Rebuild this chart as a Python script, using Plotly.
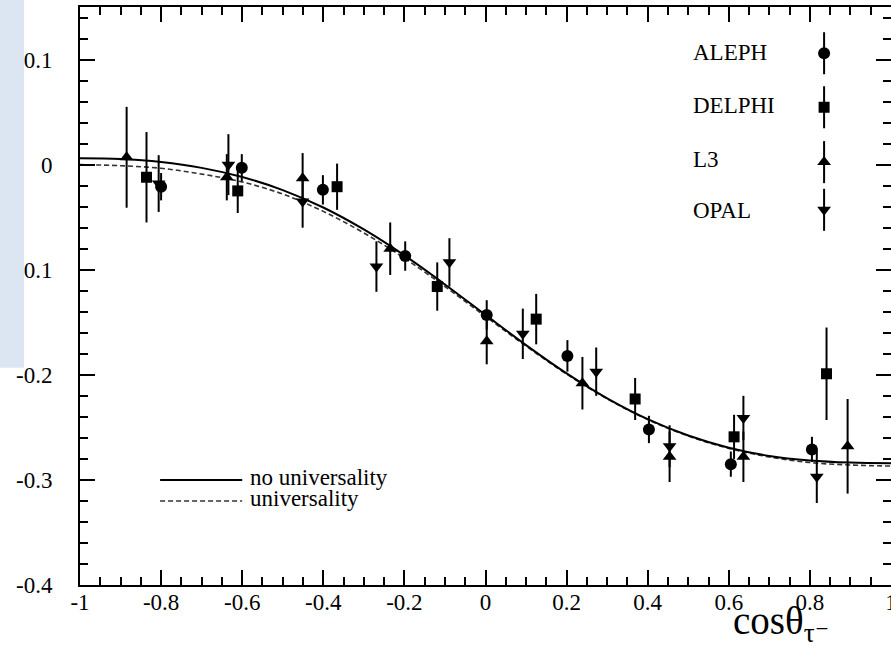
import plotly.graph_objects as go

# ---------------- data ----------------
curve_x = [-1.0, -0.9, -0.8, -0.7, -0.6, -0.5, -0.4, -0.3, -0.2, -0.1, 0.0,
           0.1, 0.2, 0.3, 0.4, 0.5, 0.6, 0.7, 0.8, 0.9, 1.0]
no_universality = [0.0061, 0.0053, 0.0024, -0.0031, -0.0118, -0.0242, -0.0408,
                   -0.0617, -0.0864, -0.1140, -0.1430, -0.1718, -0.1987, -0.2224,
                   -0.2422, -0.2578, -0.2694, -0.2772, -0.2815, -0.2835, -0.2842]
universality = [0.0, -0.0010, -0.0035, -0.0090, -0.0165, -0.0280, -0.0445,
                -0.0650, -0.0890, -0.1160, -0.1445, -0.1727, -0.1993, -0.2228,
                -0.2426, -0.2582, -0.2700, -0.2782, -0.2835, -0.2858, -0.2868]

aleph_x = [-0.800, -0.601, -0.401, -0.198, 0.003, 0.202, 0.403, 0.605, 0.805]
aleph_y = [-0.021, -0.003, -0.024, -0.087, -0.143, -0.182, -0.252, -0.285, -0.271]
aleph_err = [0.013, 0.013, 0.014, 0.014, 0.014, 0.015, 0.013, 0.012, 0.012]

delphi_x = [-0.836, -0.611, -0.366, -0.119, 0.125, 0.369, 0.613, 0.841]
delphi_y = [-0.012, -0.025, -0.021, -0.116, -0.147, -0.223, -0.259, -0.199]
delphi_err = [0.043, 0.021, 0.022, 0.023, 0.024, 0.020, 0.021, 0.044]

l3_x = [-0.885, -0.638, -0.451, -0.235, 0.003, 0.239, 0.454, 0.636, 0.893]
l3_y = [0.007, -0.012, -0.013, -0.080, -0.168, -0.208, -0.278, -0.278, -0.268]
l3_err = [0.048, 0.022, 0.024, 0.025, 0.022, 0.025, 0.024, 0.024, 0.045]

opal_x = [-0.806, -0.634, -0.451, -0.269, -0.089, 0.092, 0.273, 0.454, 0.636, 0.817]
opal_y = [-0.018, 0.000, -0.035, -0.097, -0.093, -0.161, -0.197, -0.268, -0.241, -0.297]
opal_err = [0.027, 0.029, 0.025, 0.024, 0.023, 0.024, 0.023, 0.020, 0.021, 0.025]

experiments = ["ALEPH", "DELPHI", "L3", "OPAL"]
curve_names = ["no universality", "universality"]

x_tickvals = [-1, -0.8, -0.6, -0.4, -0.2, 0, 0.2, 0.4, 0.6, 0.8, 1]
x_ticktext = ["-1", "-0.8", "-0.6", "-0.4", "-0.2", "0", "0.2", "0.4", "0.6", "0.8", "1"]
y_tickvals = [-0.4, -0.3, -0.2, -0.1, 0, 0.1]
y_ticktext = ["-0.4", "-0.3", "-0.2", "-0.1", "0", "0.1"]

# ---------------- figure ----------------
FONT = "Liberation Serif, Times New Roman, DejaVu Serif, serif"
fig = go.Figure()

fig.add_trace(go.Scatter(x=curve_x, y=universality, mode="lines",
                         line=dict(color="#333333", width=1.6, dash="5px,3px", shape="spline"),
                         hoverinfo="skip"))
fig.add_trace(go.Scatter(x=curve_x, y=no_universality, mode="lines",
                         line=dict(color="black", width=2, shape="spline"),
                         hoverinfo="skip"))

def pts(x, y, e, sym, size):
    return go.Scatter(x=x, y=y, mode="markers",
                      marker=dict(symbol=sym, size=size, color="black",
                                  line=dict(width=0)),
                      error_y=dict(type="data", array=e, visible=True,
                                   thickness=2, width=0, color="black"))

fig.add_trace(pts(opal_x, opal_y, opal_err, "triangle-down", 12))
fig.add_trace(pts(l3_x, l3_y, l3_err, "triangle-up", 12))
fig.add_trace(pts(delphi_x, delphi_y, delphi_err, "square", 11))
fig.add_trace(pts(aleph_x, aleph_y, aleph_err, "circle", 12))

# key for the experiments (top right)
key_x = 0.835
key_y = [0.106, 0.0546, 0.0024, -0.043]
key_text_y = [0.107, 0.0565, 0.005, -0.044]
key_sym = ["circle", "square", "triangle-up", "triangle-down"]
key_size = [12, 11, 12, 12]
for name, ky, ty, s, sz in zip(experiments, key_y, key_text_y, key_sym, key_size):
    fig.add_trace(pts([key_x], [ky], [0.02], s, sz))
    fig.add_annotation(x=0.506, y=ty, xref="x", yref="y", text=name,
                       showarrow=False, xanchor="left", yanchor="middle",
                       font=dict(family=FONT, size=23, color="black"))

# key for the curves (bottom left)
for name, yy, dash, w, col in zip(curve_names, [-0.300, -0.320], ["solid", "5px,3px"],
                                  [2, 1.6], ["black", "#333333"]):
    fig.add_trace(go.Scatter(x=[-0.8025, -0.6], y=[yy, yy], mode="lines",
                             line=dict(color=col, width=w, dash=dash),
                             hoverinfo="skip"))
    fig.add_annotation(x=-0.585, y=yy + 0.002, xref="x", yref="y", text=name,
                       showarrow=False, xanchor="left", yanchor="middle",
                       font=dict(family=FONT, size=23, color="black"))

# axis title
fig.add_annotation(x=0.864, y=-0.066, xref="paper", yref="paper",
                   text="cosθ<sub>τ⁻</sub>", showarrow=False,
                   xanchor="center", yanchor="middle",
                   font=dict(family=FONT, size=39, color="black"))

axis_common = dict(showline=True, linecolor="black", linewidth=2, mirror="ticks",
                   ticks="inside", ticklen=15, tickwidth=2, tickcolor="black",
                   showgrid=False, zeroline=False, ticklabeloverflow="allow",
                   automargin=False,
                   tickfont=dict(family=FONT, size=23, color="black"))

fig.update_xaxes(range=[-1, 1], tickmode="array", tickvals=x_tickvals, ticktext=x_ticktext,
                 minor=dict(ticks="inside", ticklen=8, tickwidth=2, tickcolor="black",
                            dtick=0.05, tick0=-1, showgrid=False),
                 ticklabelstandoff=-5,
                 **axis_common)
fig.update_yaxes(range=[-0.4, 0.15], tickmode="array", tickvals=y_tickvals, ticktext=y_ticktext,
                 minor=dict(ticks="inside", ticklen=8, tickwidth=2, tickcolor="black",
                            dtick=0.02, tick0=0, showgrid=False),
                 ticklabelstandoff=21,
                 **axis_common)

# light blue panel covering the left edge (from the slide)
fig.add_shape(type="rect", xref="paper", yref="paper",
              x0=-0.2, x1=-0.069, y0=0.376, y1=1.1,
              fillcolor="#dce6f2", line=dict(width=0), layer="above")

fig.update_layout(width=891, height=651, showlegend=False,
                  font=dict(family=FONT, color="black"),
                  margin=dict(l=80, r=0, t=7, b=65.5),
                  plot_bgcolor="white", paper_bgcolor="white")

post = (
    "document.documentElement.style.margin='0px';"
    "document.documentElement.style.overflow='hidden';"
    "document.body.style.margin='0px';"
    "document.body.style.overflow='hidden';"
    "var gd=document.querySelector('.plotly-graph-div');"
    "if(gd&&gd.parentElement){gd.parentElement.style.height='651px';"
    "gd.parentElement.style.overflow='hidden';gd.style.display='block';}"
)
fig.write_html("out.html", config={"displayModeBar": False}, post_script=post)
